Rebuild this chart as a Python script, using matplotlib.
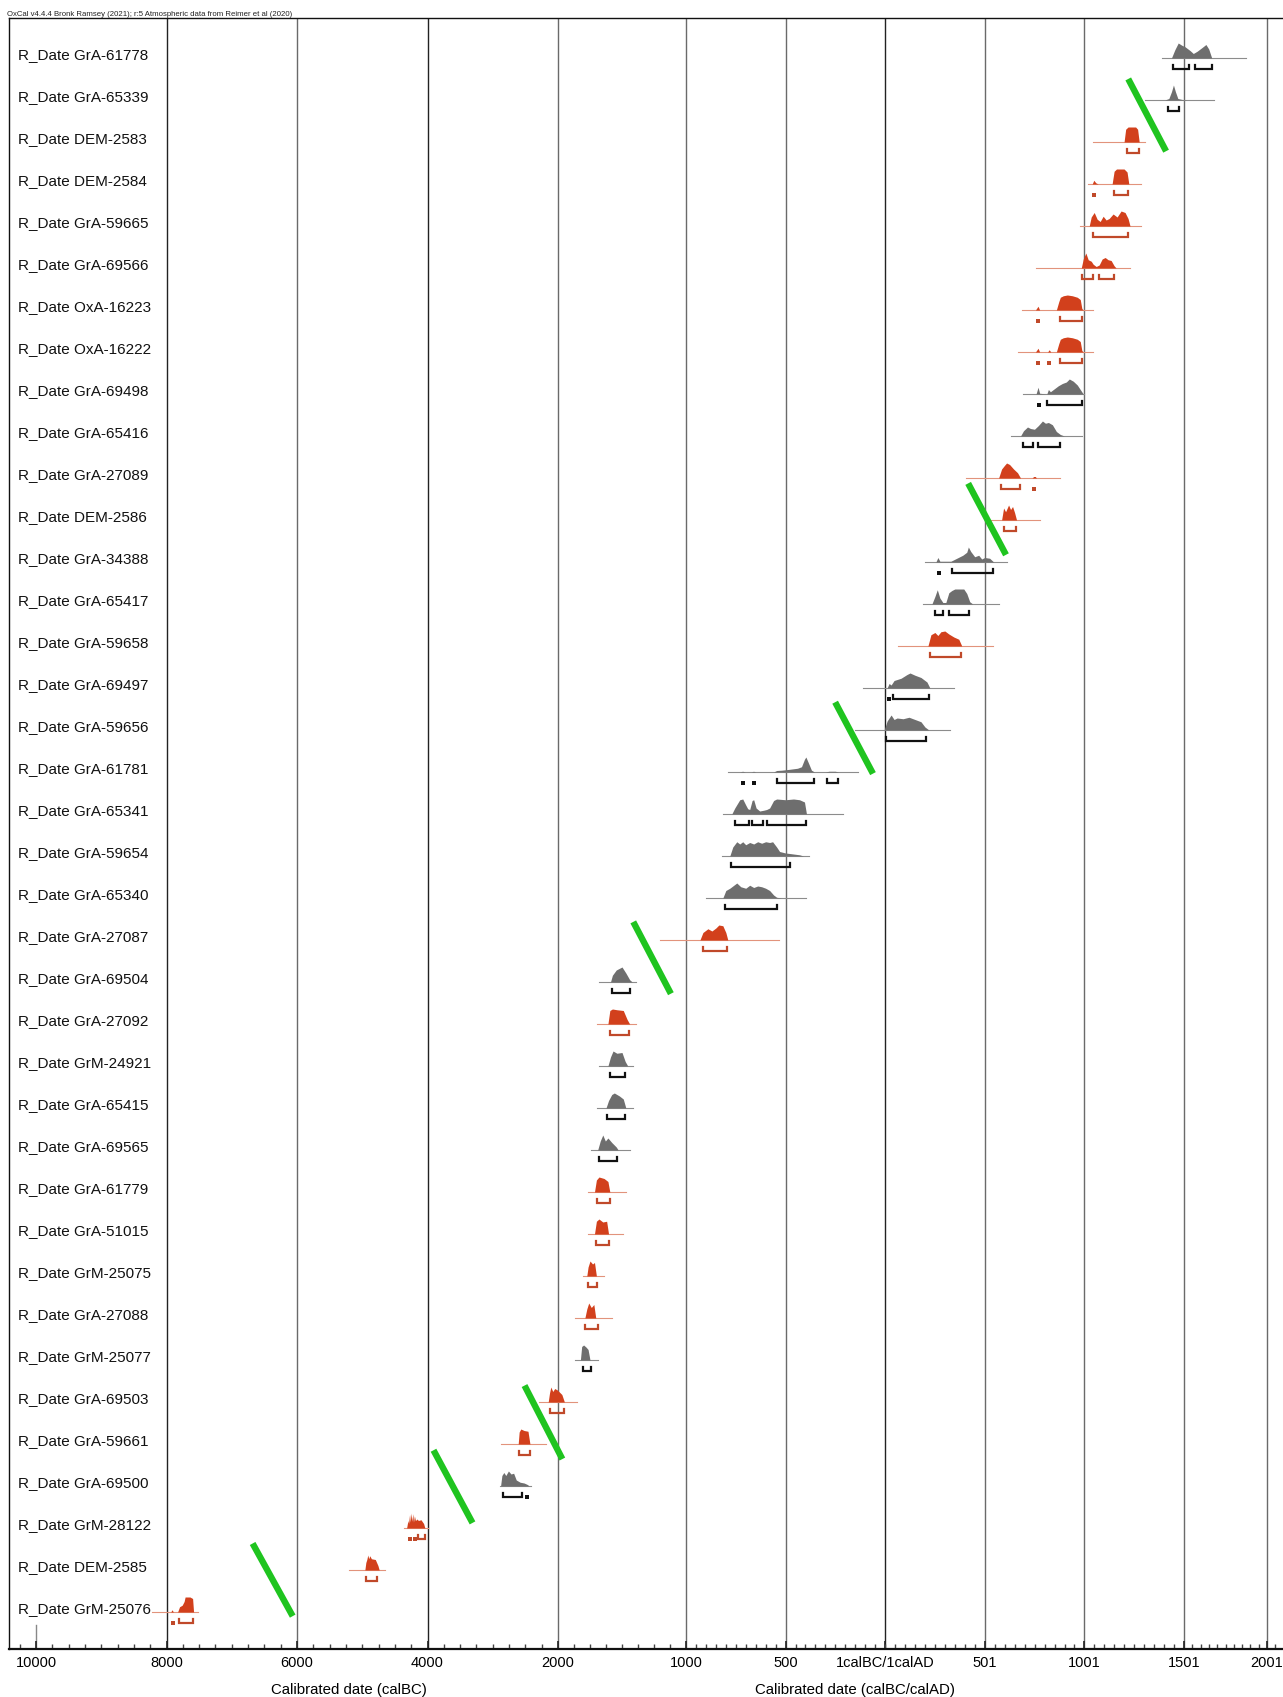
import numpy as np
import matplotlib
matplotlib.use('Agg')
import matplotlib.pyplot as plt
from matplotlib.ticker import FixedLocator, FixedFormatter

plt.rcParams['font.family'] = ['Liberation Sans', 'DejaVu Sans']

# ---------------- data ----------------
labels = [
    "R_Date GrA-61778", "R_Date GrA-65339", "R_Date DEM-2583", "R_Date DEM-2584",
    "R_Date GrA-59665", "R_Date GrA-69566", "R_Date OxA-16223", "R_Date OxA-16222",
    "R_Date GrA-69498", "R_Date GrA-65416", "R_Date GrA-27089", "R_Date DEM-2586",
    "R_Date GrA-34388", "R_Date GrA-65417", "R_Date GrA-59658", "R_Date GrA-69497",
    "R_Date GrA-59656", "R_Date GrA-61781", "R_Date GrA-65341", "R_Date GrA-59654",
    "R_Date GrA-65340", "R_Date GrA-27087", "R_Date GrA-69504", "R_Date GrA-27092",
    "R_Date GrM-24921", "R_Date GrA-65415", "R_Date GrA-69565", "R_Date GrA-61779",
    "R_Date GrA-51015", "R_Date GrM-25075", "R_Date GrA-27088", "R_Date GrM-25077",
    "R_Date GrA-69503", "R_Date GrA-59661", "R_Date GrA-69500", "R_Date GrM-28122",
    "R_Date DEM-2585", "R_Date GrM-25076",
]

is_red = [0, 0, 1, 1, 1, 1, 1, 1, 0, 0, 1, 1, 0, 0, 1, 0, 0, 0, 0, 0,
          0, 1, 0, 1, 0, 0, 0, 1, 1, 1, 1, 0, 1, 1, 0, 1, 1, 1]

# extent of the thin line under each distribution (calendar years, BC negative)
line_ranges = [
    (1391, 1874), (1305, 1680), (1042, 1305), (1020, 1286), (977, 1286),
    (759, 1232), (689, 1042), (668, 1042), (690, 1000), (634, 987),
    (406, 879), (520, 780), (200, 610), (190, 570), (64, 542),
    (-109, 347), (-153, 325), (-790, -136), (-815, -212), (-820, -384),
    (-902, -397), (-1202, -533), (-1681, -1387), (-1698, -1387), (-1681, -1412),
    (-1698, -1412), (-1740, -1437), (-1765, -1471), (-1765, -1496), (-1807, -1639),
    (-1866, -1580), (-1866, -1689), (-2298, -1849), (-2879, -2181), (-2895, -2414),
    (-4360, -3990), (-5203, -4655), (-8224, -7510),
]

# probability distributions: years and relative heights
dist_years = [
    [1438, 1455, 1472, 1490, 1507, 1537, 1557, 1580, 1610, 1633, 1650, 1668],
    [1405, 1425, 1438, 1448, 1458, 1470, 1490, 1520],
    [1200, 1208, 1220, 1258, 1268, 1276],
    [1040, 1048, 1058, 1070, 1140, 1150, 1162, 1200, 1215, 1224],
    [1025, 1035, 1050, 1065, 1080, 1095, 1110, 1125, 1145, 1165, 1185, 1205, 1220, 1230],
    [985, 995, 1008, 1020, 1035, 1045, 1060, 1075, 1090, 1105, 1120, 1135, 1150, 1160],
    [755, 768, 776, 860, 872, 880, 895, 915, 940, 965, 980, 988, 995],
    [755, 768, 776, 816, 824, 832, 860, 872, 880, 895, 915, 940, 965, 980, 988, 995],
    [758, 768, 776, 812, 820, 830, 850, 870, 890, 910, 925, 945, 965, 985, 995],
    [680, 695, 715, 730, 750, 770, 790, 805, 820, 840, 860, 880, 900],
    [570, 585, 600, 610, 625, 645, 665, 680, 738, 746, 754, 760],
    [585, 595, 605, 620, 630, 640, 650, 660],
    [255, 265, 275, 330, 360, 390, 410, 418, 430, 450, 470, 485, 500, 525, 545],
    [235, 250, 262, 275, 290, 305, 320, 335, 350, 395, 410, 425, 440],
    [215, 230, 250, 265, 280, 300, 320, 345, 370, 385],
    [10, 20, 30, 45, 80, 110, 125, 150, 180, 210, 225],
    [-5, 10, 30, 45, 60, 90, 120, 150, 180, 200, 220],
    [-730, -716, -702, -672, -661, -650, -560, -545, -520, -480, -440, -420, -405, -398, -385, -370, -355, -300, -282, -250, -235],
    [-770, -755, -730, -715, -700, -690, -680, -668, -660, -648, -630, -610, -595, -580, -560, -545, -500, -460, -430, -405, -395],
    [-780, -765, -745, -730, -715, -700, -680, -660, -640, -620, -600, -580, -565, -545, -530, -500, -470, -430, -410],
    [-815, -800, -780, -760, -745, -725, -700, -680, -660, -640, -620, -600, -580, -560, -545, -520],
    [-930, -915, -890, -870, -850, -835, -815, -800, -790],
    [-1590, -1575, -1545, -1500, -1470, -1440, -1420],
    [-1610, -1595, -1575, -1540, -1490, -1460, -1440],
    [-1610, -1590, -1570, -1540, -1500, -1475, -1455],
    [-1625, -1605, -1580, -1560, -1520, -1490, -1470],
    [-1690, -1670, -1650, -1630, -1610, -1580, -1545, -1530],
    [-1715, -1700, -1680, -1640, -1610, -1595],
    [-1715, -1700, -1680, -1650, -1620, -1605],
    [-1775, -1765, -1750, -1730, -1715, -1700],
    [-1790, -1775, -1760, -1740, -1720, -1705],
    [-1825, -1815, -1800, -1780, -1765, -1750],
    [-2150, -2130, -2110, -2080, -2050, -2010, -1970, -1950],
    [-2610, -2595, -2570, -2520, -2460, -2430],
    [-2880, -2860, -2830, -2800, -2760, -2720, -2680, -2640, -2580, -2520, -2470, -2440],
    [-4320, -4300, -4290, -4275, -4265, -4250, -4240, -4225, -4215, -4200, -4185, -4160, -4140, -4100, -4060, -4040],
    [-4960, -4945, -4930, -4915, -4900, -4885, -4860, -4800, -4760, -4740],
    [-7935, -7915, -7895, -7830, -7800, -7760, -7730, -7715, -7640, -7600, -7585],
]
dist_heights = [
    [0, 0.55, 1.0, 0.85, 0.75, 0.5, 0.3, 0.45, 0.7, 0.9, 0.6, 0],
    [0, 0.1, 0.55, 1.0, 0.55, 0.1, 0.04, 0],
    [0, 0.85, 1.0, 1.0, 0.85, 0],
    [0, 0.25, 0.08, 0, 0, 0.85, 1.0, 1.0, 0.8, 0],
    [0, 0.6, 0.9, 0.45, 0.3, 0.65, 0.4, 0.5, 0.8, 0.6, 1.0, 0.9, 0.5, 0],
    [0, 0.6, 1.0, 0.55, 0.45, 0.25, 0.1, 0.2, 0.6, 0.7, 0.55, 0.5, 0.15, 0],
    [0, 0.25, 0, 0, 0.55, 0.85, 0.95, 1.0, 0.95, 0.85, 0.7, 0.1, 0],
    [0, 0.25, 0, 0, 0.15, 0, 0, 0.55, 0.85, 0.95, 1.0, 0.95, 0.85, 0.7, 0.1, 0],
    [0, 0.45, 0.05, 0, 0.3, 0.15, 0.35, 0.55, 0.7, 0.8, 1.0, 0.85, 0.6, 0.2, 0],
    [0, 0.35, 0.6, 0.5, 0.45, 0.7, 1.0, 0.85, 0.9, 0.75, 0.3, 0.1, 0],
    [0, 0.6, 0.85, 1.0, 0.9, 0.6, 0.35, 0, 0, 0.1, 0.1, 0],
    [0, 0.8, 0.55, 1.0, 0.7, 0.9, 0.5, 0],
    [0, 0.3, 0.05, 0.05, 0.25, 0.45, 0.65, 1.0, 0.7, 0.35, 0.45, 0.2, 0.3, 0.25, 0],
    [0, 0.5, 0.95, 0.4, 0.1, 0.1, 0.75, 0.9, 1.0, 1.0, 0.7, 0.15, 0],
    [0, 0.75, 0.9, 0.7, 0.95, 1.0, 0.8, 0.6, 0.45, 0],
    [0, 0.3, 0.2, 0.5, 0.65, 0.9, 1.0, 0.85, 0.7, 0.4, 0],
    [0, 0.6, 1.0, 0.7, 0.8, 0.75, 0.85, 0.7, 0.55, 0.2, 0],
    [0, 0.05, 0, 0, 0.05, 0, 0, 0.1, 0.12, 0.18, 0.25, 0.35, 0.85, 1.0, 0.6, 0.12, 0, 0, 0.05, 0.05, 0],
    [0, 0.4, 0.95, 1.0, 0.6, 0.35, 0.3, 0.9, 0.95, 0.4, 0.2, 0.25, 0.3, 0.4, 0.9, 1.0, 0.95, 1.0, 0.95, 0.8, 0],
    [0, 0.6, 0.95, 0.8, 0.95, 0.75, 0.9, 0.8, 0.95, 0.85, 0.95, 0.9, 0.95, 0.6, 0.3, 0.2, 0.15, 0.08, 0],
    [0, 0.5, 0.65, 0.85, 1.0, 0.75, 0.65, 0.85, 0.7, 0.8, 0.75, 0.65, 0.5, 0.2, 0.05, 0],
    [0, 0.5, 0.75, 0.6, 0.8, 1.0, 0.95, 0.5, 0],
    [0, 0.45, 0.8, 1.0, 0.6, 0.15, 0],
    [0, 0.9, 1.0, 0.95, 0.9, 0.3, 0],
    [0, 0.6, 1.0, 0.85, 0.9, 0.3, 0],
    [0, 0.5, 0.9, 1.0, 0.8, 0.6, 0],
    [0, 0.6, 1.0, 0.6, 0.8, 0.5, 0.2, 0],
    [0, 0.8, 1.0, 0.9, 0.7, 0],
    [0, 0.85, 1.0, 0.8, 0.85, 0],
    [0, 0.6, 1.0, 0.8, 0.9, 0],
    [0, 0.6, 1.0, 0.7, 0.9, 0],
    [0, 0.9, 1.0, 0.85, 0.7, 0],
    [0, 0.6, 1.0, 0.7, 0.9, 0.8, 0.5, 0],
    [0, 0.8, 1.0, 0.9, 0.85, 0],
    [0, 0.7, 0.9, 0.7, 1.0, 0.8, 0.85, 0.4, 0.25, 0.2, 0.1, 0],
    [0, 0.5, 0.3, 0.9, 0.4, 1.0, 0.45, 0.95, 0.4, 0.8, 0.5, 0.6, 0.5, 0.55, 0.3, 0],
    [0, 0.5, 0.7, 1.0, 0.75, 0.95, 0.75, 0.7, 0.3, 0],
    [0, 0.15, 0, 0, 0.35, 0.45, 0.7, 1.0, 1.0, 0.9, 0],
]

# 95.4% ranges
brackets = [
    [(1446, 1531), (1567, 1670)],
    [(1420, 1478)],
    [(1215, 1275)],
    [(1045, 1058), (1150, 1220)],
    [(1042, 1222)],
    [(990, 1045), (1075, 1150)],
    [(765, 775), (880, 990)],
    [(765, 775), (820, 830), (880, 990)],
    [(765, 778), (815, 990)],
    [(690, 745), (770, 880)],
    [(580, 675), (740, 758)],
    [(595, 655)],
    [(258, 282), (335, 540)],
    [(250, 290), (320, 420)],
    [(225, 380)],
    [(15, 28), (40, 220)],
    [(5, 205)],
    [(-720, -712), (-665, -657), (-545, -355), (-290, -235)],
    [(-755, -685), (-670, -615), (-595, -395)],
    [(-775, -480)],
    [(-805, -545)],
    [(-915, -795)],
    [(-1580, -1437)],
    [(-1597, -1446)],
    [(-1590, -1480)],
    [(-1614, -1480)],
    [(-1681, -1538)],
    [(-1698, -1597)],
    [(-1706, -1605)],
    [(-1765, -1698)],
    [(-1790, -1689)],
    [(-1807, -1740)],
    [(-2130, -1955)],
    [(-2600, -2430)],
    [(-2845, -2547), (-2500, -2465)],
    [(-4310, -4240), (-4230, -4160), (-4150, -4040)],
    [(-4950, -4770)],
    [(-7915, -7900), (-7805, -7595)],
]

# hand-drawn green separators: (year0, row0, year1, row1)
green_marks = [
    (1221, 0.57, 1411, 2.29),
    (417, 10.2, 607, 11.9),
    (-251, 15.41, -61, 17.11),
    (-1412, 20.64, -1118, 22.35),
    (-2513, 31.68, -1966, 33.43),
    (-3908, 33.22, -3310, 34.95),
    (-6680, 35.44, -6066, 37.17),
]

tick_years = [-10000, -8000, -6000, -4000, -2000, -1000, -500, 0, 501, 1001, 1501, 2001]
tick_labels = ["10000", "8000", "6000", "4000", "2000", "1000", "500",
               "1calBC/1calAD", "501", "1001", "1501", "2001"]

# ---------------- layout / scale ----------------
W, H = 1283, 1697
scale_years = np.array([-10414, -10000, -2000, -1000, 1501, 2001, 2097], float)
scale_px = np.array([9, 36, 558, 686, 1184, 1267, 1283], float)

def fwd(x):
    return np.interp(x, scale_years, scale_px)

def inv(p):
    return np.interp(p, scale_px, scale_years)

fig = plt.figure(figsize=(W / 100, H / 100), dpi=100)
ax_left, ax_right = 9, 1283
ax_top, ax_bottom = 18, 1649
ax = fig.add_axes([ax_left / W, 1 - ax_bottom / H, (ax_right - ax_left) / W, (ax_bottom - ax_top) / H])
ax.set_xscale('function', functions=(fwd, inv))
ax.set_xlim(scale_years[0], scale_years[-1])
row_px = 42.0
row0_px = 55.0
ax.set_ylim((ax_bottom - row0_px) / row_px, (ax_top - row0_px) / row_px)

ax.spines['right'].set_visible(False)
for s in ['left', 'top', 'bottom']:
    ax.spines[s].set_linewidth(1.0)
    ax.spines[s].set_color('#111111')
ax.spines['bottom'].set_linewidth(1.6)
ax.set_yticks([])

# gridlines
dark = {-8000, -4000, 0}
for y in tick_years:
    if y == -10000:
        continue
    ax.axvline(y, color='#222222' if y in dark else '#6a6a6a', lw=1.0, zorder=1)
# short tick at 10000
ax.plot([-10000, -10000], [37.38, 37.95], color='#888888', lw=1.0, zorder=1)

# ticks
ax.xaxis.set_major_locator(FixedLocator(tick_years))
ax.xaxis.set_major_formatter(FixedFormatter(tick_labels))
minor = list(range(-10250, -2000, 250)) + list(range(-2000, -1000, 125)) + \
        list(range(-1000, 1, 50)) + list(range(1, 2100, 50))
ax.xaxis.set_minor_locator(FixedLocator(minor))
ax.tick_params(axis='x', which='major', direction='in', length=6, width=1.2,
               labelsize=10.5, pad=5, color='#222222')
ax.tick_params(axis='x', which='minor', direction='in', length=3.5, width=1.0, color='#444444')

GRAY_FILL = '#6e6e6e'
RED_FILL = '#d2401c'
GRAY_LINE = '#8c8c8c'
RED_LINE = '#e2937c'
GRAY_BR = '#111111'
RED_BR = '#c0492a'

base_off = 3.0 / row_px
br_off = 14.0 / row_px
hmax = 15.0 / row_px
tick_h = 4.0 / row_px

for i, lab in enumerate(labels):
    red = bool(is_red[i])
    yb = i + base_off
    ax.text(0.0071, i, lab, transform=ax.get_yaxis_transform(), ha='left', va='center',
            fontsize=11, color='#111111')
    x0, x1 = line_ranges[i]
    ax.plot([x0, x1], [yb, yb], color=RED_LINE if red else GRAY_LINE, lw=0.8, zorder=2)
    xs = np.array(dist_years[i], float)
    hs = np.array(dist_heights[i], float)
    ax.fill_between(xs, yb, yb - hs * hmax, color=RED_FILL if red else GRAY_FILL,
                    lw=0, zorder=3)
    bc = RED_BR if red else GRAY_BR
    yr = i + br_off
    for (b0, b1) in brackets[i]:
        if fwd(b1) - fwd(b0) < 5:
            ax.plot([(b0 + b1) / 2], [yr], marker='s', ms=3.2, color=bc, mew=0, zorder=3)
        else:
            ax.plot([b0, b0, b1, b1], [yr - tick_h, yr, yr, yr - tick_h], color=bc,
                    lw=1.6, solid_joinstyle='miter', zorder=3)

for (a0, r0, a1, r1) in green_marks:
    ax.plot([a0, a1], [r0, r1], color='#1fc41f', lw=4.6, solid_capstyle='butt', zorder=5)

# axis titles and header
fig.text(349 / W, 1 - 1690 / H, "Calibrated date (calBC)", ha='center', va='center', fontsize=10.8)
fig.text(855 / W, 1 - 1690 / H, "Calibrated date (calBC/calAD)", ha='center', va='center', fontsize=10.8)
fig.text(7 / W, 1 - 16.5 / H, "OxCal v4.4.4 Bronk Ramsey (2021); r:5 Atmospheric data from Reimer et al (2020)",
         ha='left', va='baseline', fontsize=5.6, color='#222222')

fig.savefig('out.png', dpi=100)
